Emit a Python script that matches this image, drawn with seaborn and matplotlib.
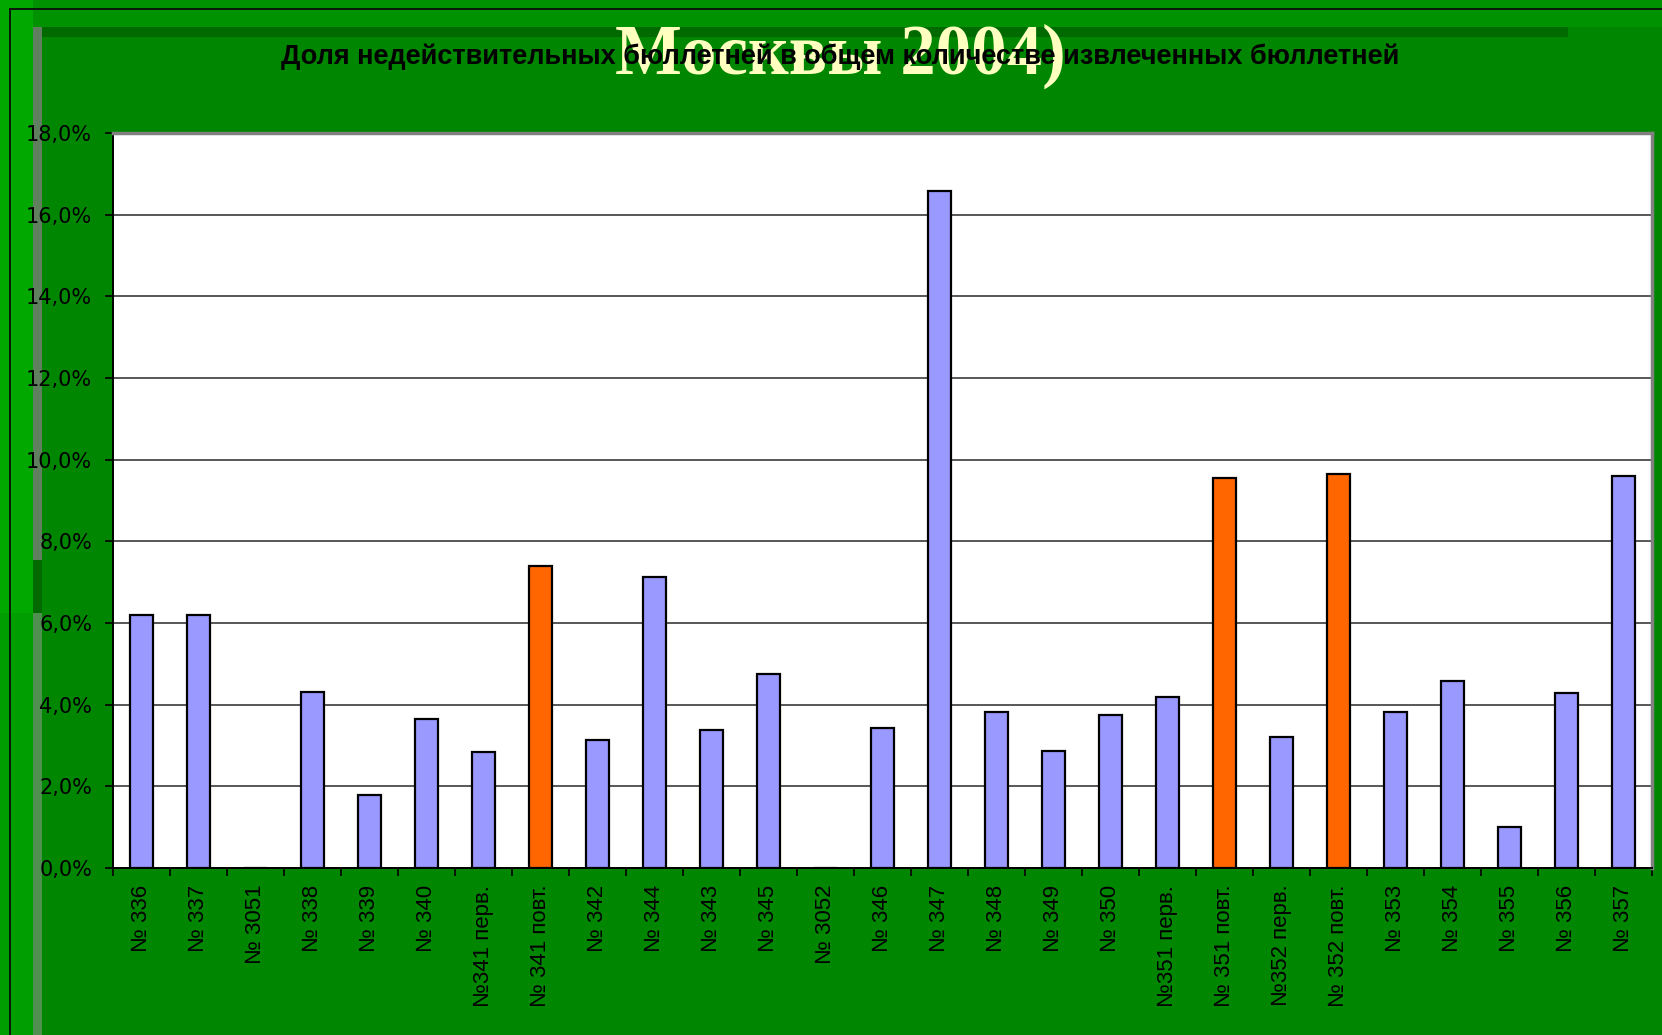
import matplotlib
matplotlib.use("Agg")
import matplotlib.pyplot as plt
import matplotlib.patches as mpatches
import numpy as np
import pandas as pd
import seaborn as sns

# polling station labels, share of invalid ballots (%), repeat count flag
STATIONS = [
    "№ 336", "№ 337", "№ 3051", "№ 338", "№ 339", "№ 340", "№341 перв.",
    "№ 341 повт.", "№ 342", "№ 344", "№ 343", "№ 345", "№ 3052", "№ 346",
    "№ 347", "№ 348", "№ 349", "№ 350", "№351 перв.", "№ 351 повт.",
    "№352 перв.", "№ 352 повт.", "№ 353", "№ 354", "№ 355", "№ 356", "№ 357",
]
INVALID_PCT = [
    6.2, 6.2, 0.0, 4.3, 1.8, 3.66, 2.83,
    7.4, 3.14, 7.12, 3.38, 4.75, 0.0, 3.43,
    16.57, 3.82, 2.86, 3.74, 4.18, 9.56,
    3.22, 9.64, 3.82, 4.57, 1.01, 4.29, 9.61,
]
RECOUNT = [
    0, 0, 0, 0, 0, 0, 0,
    1, 0, 0, 0, 0, 0, 0,
    0, 0, 0, 0, 0, 1,
    0, 1, 0, 0, 0, 0, 0,
]
Y_TICKS = [0, 2, 4, 6, 8, 10, 12, 14, 16, 18]

TITLE = "Москвы 2004)"
CHART_TITLE = "Доля недействительных бюллетней в общем количестве извлеченных бюллетней"

COLORS = {"normal": "#9999FF", "recount": "#FF6600"}
W, H = 1662, 1035

sns.set_theme(style="white")
plt.rcParams["font.family"] = ["Liberation Sans", "DejaVu Sans"]

fig = plt.figure(figsize=(W / 100, H / 100), dpi=100)
fig.patch.set_facecolor("#008600")


def _rect(x, y, w, h, color):
    # pixel box (top-left origin) -> figure fraction, kept under the chart
    fig.patches.append(mpatches.Rectangle(
        (x / W, 1 - (y + h) / H), w / W, h / H,
        transform=fig.transFigure, color=color, zorder=-5, lw=0))


# slide decoration
_rect(0, 0, W, 27, "#009200")
_rect(0, 0, 33, H, "#00A800")
_rect(0, 613, 33, H - 613, "#009E00")
_rect(42, 27, 1526, 10, "#006A00")
_rect(33, 27, 9, 533, "#5F7F5F")
_rect(33, 560, 9, 53, "#006A00")
_rect(33, 613, 9, H - 613, "#4F8F4F")
_rect(10, 8, W - 10, 2, "#0A1A0A")
_rect(9, 8, 2, H - 8, "#0A1A0A")

ax = fig.add_axes([113 / W, 1 - 868 / H, (1652 - 113) / W, (868 - 133) / H])
ax.set_facecolor("white")

df = pd.DataFrame({"station": STATIONS, "pct": INVALID_PCT, "recount": RECOUNT})
palette = {s: COLORS["recount"] if r else COLORS["normal"]
           for s, r in zip(df["station"], df["recount"])}

sns.barplot(data=df, x="station", y="pct", hue="station", palette=palette,
            legend=False, width=0.4, edgecolor="black", linewidth=1.6,
            saturation=1, ax=ax, zorder=3)

ax.set_xlim(-0.5, len(STATIONS) - 0.5)
ax.set_ylim(0, 18)
ax.set_yticks(Y_TICKS)
ax.set_yticklabels([f"{v:.1f}%".replace(".", ",") for v in Y_TICKS],
                   family="DejaVu Sans")
ax.yaxis.grid(True, color="#4A4A4A", lw=1.3, zorder=1)
ax.set_axisbelow(True)

ax.set_xticks(np.arange(len(STATIONS)))
ax.set_xticklabels(STATIONS, rotation=90, va="top", ha="center")
ax.set_xticks(np.arange(-0.5, len(STATIONS), 1), minor=True)
ax.tick_params(axis="x", which="major", length=0, pad=12, labelsize=16,
               labelcolor="black")
ax.tick_params(axis="x", which="minor", length=6, width=1.2, color="black",
               direction="out", bottom=True)
ax.tick_params(axis="y", length=6, width=1.2, color="black", direction="out",
               left=True, pad=9, labelsize=15, labelcolor="black")
ax.set_xlabel("")
ax.set_ylabel("")

for side in ("left", "bottom"):
    ax.spines[side].set_color("black")
    ax.spines[side].set_linewidth(1.4)
for side in ("top", "right"):
    ax.spines[side].set_color("#808080")
    ax.spines[side].set_linewidth(2.5)

fig.text(840 / W, 1 - 74 / H, TITLE, ha="center", va="baseline",
         fontsize=51, fontweight="bold", color="#FFFFC0",
         family=["Liberation Serif", "DejaVu Serif"], zorder=5)
fig.text(840 / W, 1 - 57 / H, CHART_TITLE, ha="center", va="center",
         fontsize=19.5, fontweight="bold", color="black", zorder=6)

fig.savefig("out.png", dpi=100, facecolor=fig.get_facecolor())
